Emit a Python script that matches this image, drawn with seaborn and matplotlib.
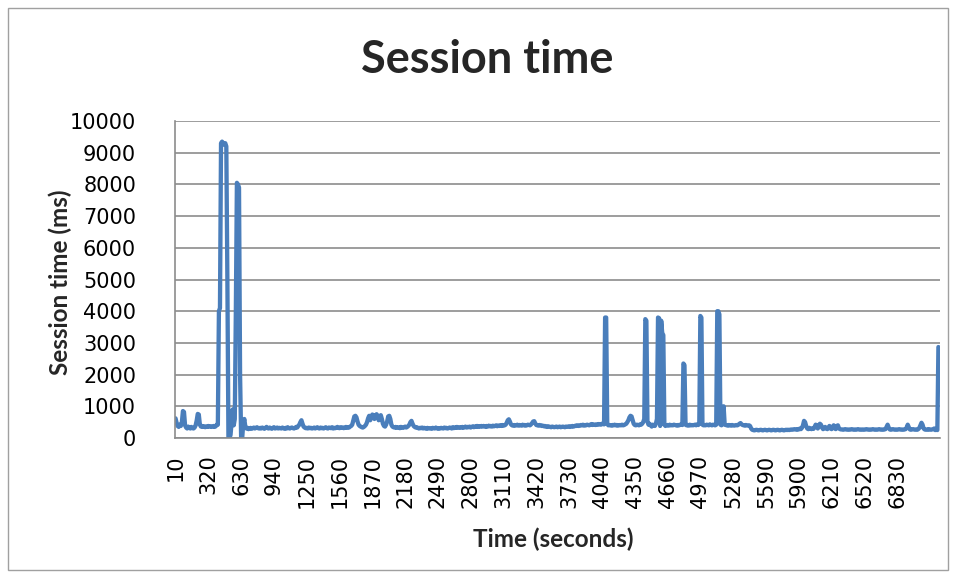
import numpy as np
import pandas as pd
import matplotlib
matplotlib.use("Agg")
import matplotlib.pyplot as plt
from matplotlib.patches import Rectangle
import seaborn as sns

session_ms = [
    620, 480, 380, 350, 420, 380, 500, 850, 820, 400,
    330, 300, 360, 320, 300, 350, 310, 300, 330, 400,
    550, 760, 740, 420, 360, 380, 350, 370, 340, 360,
    350, 380, 360, 370, 350, 360, 380, 350, 370, 420,
    420, 4000, 4100, 9300, 9350, 9300, 9250, 9300, 9200, 5000,
    0, 0, 100, 500, 900, 400, 600, 4000, 8050, 8000,
    7900, 2000, 0, 0, 450, 600, 350, 300, 320, 280,
    300, 320, 290, 310, 330, 300, 320, 340, 310, 300,
    320, 300, 330, 310, 290, 320, 350, 310, 300, 330,
    310, 290, 320, 340, 300, 310, 330, 300, 320, 310,
    300, 330, 310, 290, 320, 300, 340, 310, 300, 320,
    330, 310, 300, 320, 350, 330, 380, 420, 500, 560,
    450, 360, 330, 310, 320, 300, 330, 310, 320, 300,
    310, 330, 300, 320, 340, 310, 300, 330, 310, 320,
    300, 320, 340, 310, 300, 330, 320, 310, 340, 300,
    320, 310, 330, 350, 320, 310, 340, 320, 330, 310,
    330, 350, 320, 340, 330, 360, 380, 420, 550, 680,
    700, 650, 520, 420, 380, 360, 340, 330, 350, 380,
    420, 500, 620, 700, 560, 650, 740, 720, 600, 680,
    750, 700, 560, 640, 720, 600, 450, 380, 360, 420,
    520, 680, 700, 600, 420, 360, 340, 330, 350, 320,
    340, 330, 310, 350, 330, 320, 340, 360, 330, 350,
    380, 420, 500, 540, 450, 380, 350, 330, 340, 320,
    300, 320, 310, 330, 300, 320, 310, 290, 320, 300,
    310, 300, 290, 320, 310, 300, 330, 310, 290, 310,
    300, 320, 310, 300, 330, 310, 320, 300, 310, 330,
    320, 300, 340, 310, 330, 320, 350, 330, 320, 340,
    330, 350, 320, 340, 360, 330, 350, 340, 360, 330,
    350, 370, 340, 360, 350, 380, 350, 370, 360, 380,
    360, 380, 370, 350, 380, 360, 390, 370, 380, 360,
    390, 370, 380, 400, 370, 390, 380, 400, 380, 410,
    390, 400, 420, 480, 560, 590, 520, 430, 400, 390,
    410, 390, 400, 420, 390, 410, 400, 390, 420, 400,
    410, 390, 400, 420, 410, 400, 430, 470, 520, 530,
    460, 410, 400, 390, 410, 400, 380, 390, 370, 380,
    360, 350, 370, 360, 350, 340, 360, 350, 340, 350,
    360, 340, 350, 360, 340, 350, 360, 350, 340, 360,
    350, 360, 370, 350, 360, 380, 360, 370, 390, 380,
    400, 380, 390, 410, 400, 420, 390, 410, 400, 420,
    410, 400, 420, 440, 410, 430, 420, 410, 430, 420,
    440, 430, 420, 450, 440, 430, 3800, 3800, 450, 400,
    410, 400, 390, 410, 400, 420, 400, 410, 390, 400,
    410, 400, 420, 400, 410, 430, 450, 500, 560, 650,
    700, 680, 560, 450, 410, 400, 420, 410, 400, 430,
    420, 450, 500, 600, 3750, 3700, 520, 420, 450, 400,
    360, 420, 400, 380, 450, 600, 3800, 3780, 380, 3700,
    3300, 3250, 420, 380, 400, 410, 390, 420, 400, 410,
    400, 420, 410, 400, 390, 410, 400, 420, 430, 410,
    2350, 2300, 420, 400, 410, 390, 420, 400, 410, 400,
    410, 420, 400, 430, 410, 450, 3850, 3800, 420, 400,
    410, 400, 420, 410, 400, 430, 410, 400, 420, 410,
    400, 420, 4000, 4000, 3900, 420, 400, 600, 1000, 420,
    410, 400, 390, 410, 400, 390, 410, 400, 390, 400,
    410, 400, 420, 450, 470, 430, 410, 400, 390, 410,
    400, 390, 400, 380, 300, 260, 250, 240, 250, 260,
    250, 240, 250, 260, 250, 240, 250, 260, 250, 240,
    250, 260, 250, 240, 250, 260, 250, 240, 250, 260,
    250, 240, 250, 260, 250, 240, 250, 260, 250, 260,
    250, 260, 270, 260, 270, 280, 270, 260, 280, 270,
    300, 280, 320, 400, 540, 500, 380, 300, 280, 320,
    300, 280, 300, 290, 350, 420, 380, 300, 400, 450,
    420, 330, 280, 300, 350, 300, 280, 320, 380, 300,
    280, 350, 400, 300, 280, 380, 400, 300, 280, 270,
    270, 260, 270, 280, 270, 260, 270, 260, 270, 280,
    270, 260, 270, 260, 270, 280, 270, 260, 270, 260,
    270, 260, 270, 280, 270, 260, 270, 260, 270, 280,
    270, 260, 270, 260, 270, 280, 270, 260, 270, 260,
    270, 280, 350, 420, 330, 270, 260, 270, 280, 270,
    260, 270, 260, 270, 280, 270, 260, 270, 260, 270,
    280, 330, 420, 340, 270, 260, 270, 280, 270, 260,
    270, 260, 280, 320, 400, 480, 420, 300, 270, 260,
    270, 260, 280, 270, 260, 270, 280, 300, 250, 260,
    250, 2870,
]
time_s = [10 * (i + 1) for i in range(len(session_ms))]
tick_every = 31
last_label = 6830
y_ticks = list(range(0, 10001, 1000))

df = pd.DataFrame({"pos": range(len(session_ms)), "time": time_s, "ms": session_ms})

sns.set_style("white")
plt.rcParams["font.family"] = ["DejaVu Sans"]

fig = plt.figure(figsize=(9.56, 5.78), dpi=100)
ax = fig.add_axes([175 / 956, 1 - 438 / 578, 765 / 956, 317 / 578])

sns.lineplot(data=df, x="pos", y="ms", ax=ax, color="#4a7ebb", linewidth=3.1)

ax.set_xlim(-0.5, len(session_ms) + 0.5)
ax.set_ylim(0, 10000)
ax.set_yticks(y_ticks)
ax.set_yticklabels([str(v) for v in y_ticks], fontsize=15)
xt = [i for i in range(0, len(session_ms), tick_every) if time_s[i] <= last_label]
ax.set_xticks(xt)
ax.set_xticklabels([str(time_s[i]) for i in xt], rotation=90, fontsize=15)

ax.grid(axis="y", color="#8c8c8c", linewidth=1.2)
ax.set_axisbelow(True)
for s in ["top", "right"]:
    ax.spines[s].set_visible(False)
for s in ["left", "bottom"]:
    ax.spines[s].set_color("#8c8c8c")
    ax.spines[s].set_linewidth(1.2)
ax.tick_params(axis="both", length=4, color="#8c8c8c", labelcolor="black")
ax.tick_params(axis="y", pad=24)
ax.tick_params(axis="x", pad=8)

lab_font = ["Lato", "DejaVu Sans"]
ax.set_xlabel("Time (seconds)", fontsize=17.5, fontweight="bold", family=lab_font,
              va="center")
ax.xaxis.set_label_coords(0.494, -0.319)
ax.set_ylabel("Session time (ms)", fontsize=17.5, fontweight="bold", family=lab_font,
              va="center")
ax.yaxis.set_label_coords(-0.150, 0.49)
fig.text(487 / 956, 1 - 60 / 578, "Session time", ha="center", va="center",
         fontsize=32.5, fontweight="bold", family=lab_font)

fig.patches.append(Rectangle((8 / 956, 8 / 578), 940 / 956, 562 / 578,
                             transform=fig.transFigure, fill=False,
                             edgecolor="#a0a0a0", linewidth=1))

fig.savefig("out.png", dpi=100)
